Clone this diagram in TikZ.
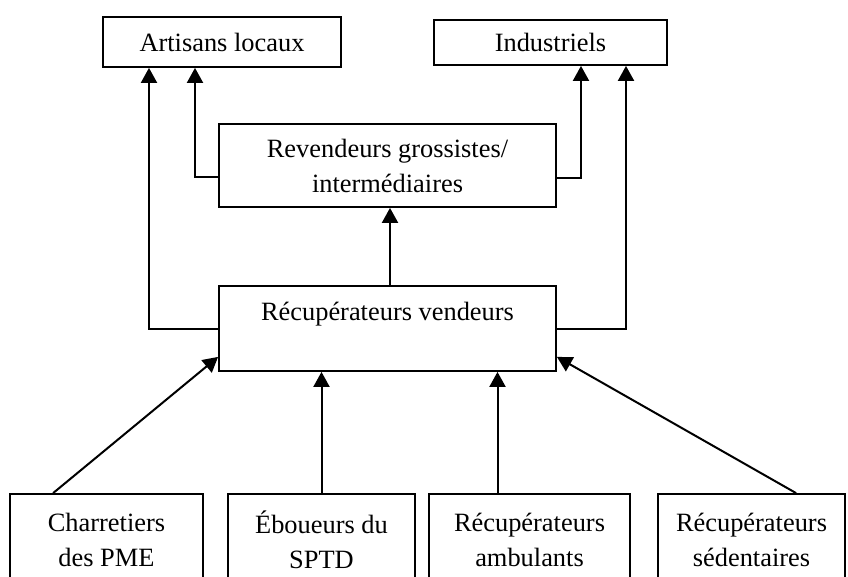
\documentclass[tikz,border=0pt]{standalone}
\usepackage{fontspec}
\setmainfont{Liberation Serif}
\usetikzlibrary{
  arrows.meta,
  positioning,
  calc
}
\tikzset{
  actor/.style={
    draw, line width=1.8pt, inner sep=0pt, align=center,
    font=\fontsize{26.4}{35}\selectfont
  },
  trade/.style={-{Triangle[length=15pt, width=16pt]}, line width=2pt}
}
\begin{document}
\begin{tikzpicture}[x=1pt, y=-1pt]
  \clip (0,0) rectangle (848,576);
  % buyers
  \node[actor, minimum width=238pt, minimum height=50pt] (artisans) at (222,42) {Artisans locaux};
  \node[actor, minimum width=233pt, minimum height=45pt] (industriels) at (550.5,42.5) {Industriels};
  % intermediate levels
  \node[actor, minimum width=337pt, minimum height=83pt] (revendeurs) at (387.5,165.5) {Revendeurs grossistes/\\intermédiaires};
  \node[actor, minimum width=337pt, minimum height=85pt] (recup) at (387.5,328.5) {Récupérateurs vendeurs\\\mbox{}};
  % collectors
  \node[actor, minimum width=193pt, minimum height=92pt] (charretiers) at (106.5,540) {Charretiers\\des PME};
  \node[actor, minimum width=187pt, minimum height=92pt] (eboueurs) at (321.5,540) {Éboueurs du\\SPTD};
  \node[actor, minimum width=201pt, minimum height=92pt] (ambulants) at (529.5,540) {Récupérateurs\\ambulants};
  \node[actor, minimum width=187pt, minimum height=92pt] (sedentaires) at (751.5,540) {Récupérateurs\\sédentaires};

  \coordinate (lout) at ($(artisans.south)+(-73,0)$);
  \coordinate (lin) at ($(artisans.south)+(-27,0)$);
  \coordinate (rin) at ($(industriels.south)+(30.5,0)$);
  \coordinate (rout) at ($(industriels.south)+(75.5,0)$);
  \coordinate (ambtop) at ($(ambulants.north)+(-32,0)$);

  % collectors to sellers
  \draw[trade] ($(charretiers.north west)+(44,0)$) -- ($(recup.south west)+(0,-15)$);
  \draw[trade] (eboueurs.north) -- (eboueurs.north |- recup.south);
  \draw[trade] (ambtop) -- (ambtop |- recup.south);
  \draw[trade] ($(sedentaires.north west)+(139,0)$) -- ($(recup.south east)+(0,-15)$);
  % sellers upwards
  \draw[trade] ($(recup.north)+(2.5,0)$) -- ($(revendeurs.south)+(2.5,0)$);
  \draw[trade] (recup.west) -| (lout);
  \draw[trade] (recup.east) -| (rout);
  \draw[trade] ($(revendeurs.west)+(0,11)$) -| (lin);
  \draw[trade] ($(revendeurs.east)+(0,12)$) -| (rin);
\end{tikzpicture}
\end{document}
